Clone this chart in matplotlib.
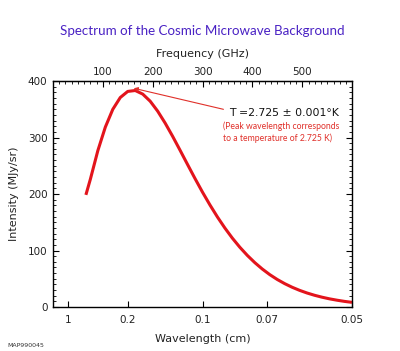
import matplotlib
matplotlib.use("Agg")
import matplotlib.pyplot as plt
from matplotlib.ticker import FixedLocator, MultipleLocator

# spectrum (x in cm^-1, y in MJy/sr)
wavenumber_cm = [2.2, 2.5, 3.0, 3.5, 4.0, 4.5, 5.0, 5.5, 6.0, 6.5, 7.0, 7.5, 8.0, 8.5,
                 9.0, 9.5, 10.0, 10.5, 11.0, 11.5, 12.0, 12.5, 13.0, 13.5, 14.0, 14.5,
                 15.0, 15.5, 16.0, 16.5, 17.0, 17.5, 18.0, 18.5, 19.0, 19.5, 20.0]
intensity_mjy = [198.5, 226.3, 276.9, 318.5, 350.0, 370.9, 381.7, 383.3, 377.0, 364.4,
                 346.8, 325.7, 302.3, 277.5, 252.3, 227.4, 203.3, 180.6, 159.3, 139.7,
                 121.8, 105.7, 91.3, 78.5, 67.2, 57.3, 48.7, 41.3, 34.9, 29.4, 24.7,
                 20.7, 17.3, 14.4, 12.0, 9.9, 8.2]

wavelength_ticks = [1, 0.2, 0.1, 0.07, 0.05]
wavelength_labels = ["1", "0.2", "0.1", "0.07", "0.05"]
freq_ticks = [100, 200, 300, 400, 500]
GHZ_PER_WAVENUMBER = 29.979

title_color = "#4a22c4"
curve_color = "#e3141c"
note_color = "#e0302a"
text_color = "#222222"

fig = plt.figure(figsize=(4.0, 3.51), dpi=100)
ax = fig.add_axes([0.1325, 0.1254, 0.7475, 0.6436])

ax.plot(wavenumber_cm, intensity_mjy, color=curve_color, lw=2.2, solid_capstyle="butt")

ax.set_xlim(0, 20)
ax.set_ylim(0, 400)

ax.xaxis.set_major_locator(FixedLocator([1.0 / w for w in wavelength_ticks]))
ax.set_xticklabels(wavelength_labels)
ax.yaxis.set_major_locator(MultipleLocator(100))
ax.yaxis.set_minor_locator(MultipleLocator(10))
ax.tick_params(axis="x", direction="in", length=4, width=0.8, labelsize=7.5, pad=6,
               labelcolor=text_color)
ax.tick_params(axis="y", which="both", direction="in", right=True, labelsize=7.5, pad=4,
               labelcolor=text_color)
ax.tick_params(axis="y", which="major", length=4, width=0.8)
ax.tick_params(axis="y", which="minor", length=2, width=0.6)

top = ax.secondary_xaxis("top", functions=(lambda k: k * GHZ_PER_WAVENUMBER,
                                           lambda f: f / GHZ_PER_WAVENUMBER))
top.xaxis.set_major_locator(FixedLocator(freq_ticks))
top.xaxis.set_minor_locator(MultipleLocator(12.5))
top.tick_params(which="both", direction="in", labelsize=7.5, pad=3, labelcolor=text_color)
top.tick_params(which="major", length=4, width=0.8)
top.tick_params(which="minor", length=2, width=0.6)
top.set_xlabel("Frequency (GHz)", fontsize=8, labelpad=7, color=text_color)

for s in ax.spines.values():
    s.set_linewidth(1.0)

ax.set_xlabel("Wavelength (cm)", fontsize=8, labelpad=6, color=text_color)
ax.set_ylabel("Intensity (MJy/sr)", fontsize=8, labelpad=6, color=text_color)

# arrow to the peak
i_peak = intensity_mjy.index(max(intensity_mjy))
ax.annotate("", xy=(wavenumber_cm[i_peak] - 0.1, intensity_mjy[i_peak] + 4),
            xytext=(11.4, 350),
            arrowprops=dict(arrowstyle="-|>", color=note_color, lw=0.8,
                            mutation_scale=6, shrinkA=0, shrinkB=0))
ax.text(0.59, 0.858, "T =2.725 \u00b1 0.001\u00b0K", transform=ax.transAxes,
        fontsize=7.8, ha="left", va="center", color="#111111")
ax.text(0.57, 0.775, "(Peak wavelength corresponds\nto a temperature of 2.725 K)",
        transform=ax.transAxes, fontsize=6.2, ha="left", va="center",
        color=note_color, family="Lato", linespacing=1.3)

fig.text(0.505, 0.912, "Spectrum of the Cosmic Microwave Background",
         ha="center", va="center", fontsize=9.6, color=title_color, family="Lato")
fig.text(0.018, 0.017, "MAP990045", ha="left", va="center", fontsize=4.5, color="#333333")

fig.savefig("out.png", dpi=100)
